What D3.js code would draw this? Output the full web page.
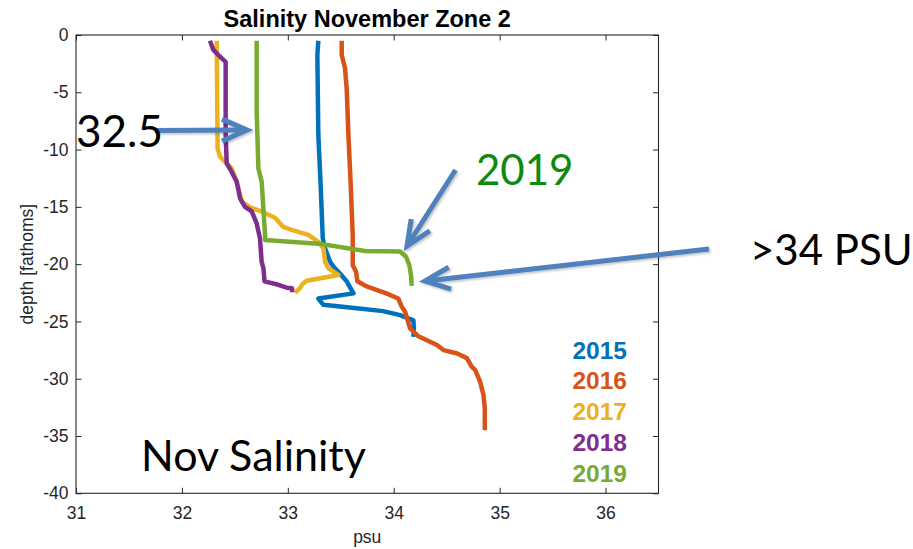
<!DOCTYPE html>
<html><head><meta charset="utf-8">
<script src="https://cdn.jsdelivr.net/npm/d3@7"></script>
<style>body{margin:0;background:#fff} svg{display:block}</style>
</head><body>
<svg id="c" width="913" height="549"></svg>
<script>
// ---- data ----
const years = ["2015","2016","2017","2018","2019"];
const colors = ["#0072BD","#D95319","#EDB120","#7E2F8E","#77AC30"];
const xTicks = [31,32,33,34,35,36];
const yTicks = [-40,-35,-30,-25,-20,-15,-10,-5,0];

const sal2015 = [33.288,33.279,33.288,33.31,33.33,33.35,33.40,33.43,33.49,33.556,33.62,33.288,33.336,33.65,33.9,34.06,34.186,34.19,34.186];
const dep2015 = [-0.5,-1.75,-8.7,-13.1,-17.75,-18.6,-19.8,-20.2,-20.8,-21.5,-22.55,-23.0,-23.55,-23.85,-24.1,-24.45,-24.9,-25.6,-26.35];

const sal2016 = [33.509,33.509,33.54,33.556,33.572,33.594,33.613,33.613,33.644,33.657,33.745,33.93,34.043,34.075,34.107,34.154,34.233,34.408,34.47,34.6,34.69,34.736,34.77,34.815,34.847,34.86,34.86];
const dep2016 = [-0.5,-1.75,-2.9,-4.7,-8.7,-13.1,-17.5,-20.1,-20.65,-21.5,-21.95,-22.55,-23,-23.7,-24.15,-25.6,-26.3,-27.05,-27.5,-27.8,-28.2,-28.95,-29.25,-30.25,-31.4,-32.6,-34.5];

const sal2017 = [32.328,32.337,32.359,32.406,32.47,32.517,32.565,32.643,32.753,32.879,32.957,33.036,33.194,33.288,33.336,33.352,33.383,33.478,33.178,33.137,33.115,33.068];
const dep2017 = [-0.5,-9.9,-10.6,-11.05,-11.65,-12.8,-14.55,-15.05,-15.4,-15.95,-16.75,-17.0,-17.45,-18.05,-18.6,-19.8,-20.35,-20.95,-21.45,-21.75,-22.1,-22.5];

const sal2018 = [32.265,32.297,32.36,32.413,32.413,32.423,32.47,32.517,32.549,32.596,32.659,32.706,32.737,32.753,32.77,32.78,32.91,32.989,33.04,33.04];
const dep2018 = [-0.5,-1.3,-1.9,-2.35,-8.7,-11.2,-11.95,-12.8,-14.25,-15.0,-15.4,-16.45,-17.75,-19.8,-20.35,-21.5,-21.8,-22.05,-22.1,-22.45];

const sal2019 = [32.706,32.706,32.722,32.753,32.785,32.785,33.32,33.729,34.06,34.116,34.148,34.163,34.17];
const dep2019 = [-0.5,-6.7,-11.65,-12.8,-17.45,-17.9,-18.25,-18.85,-18.9,-19.35,-20.1,-20.95,-21.9];

const salinity = [sal2015, sal2016, sal2017, sal2018, sal2019];
const depth = [dep2015, dep2016, dep2017, dep2018, dep2019];

// ---- layout ----
const L = 76, R = 658.5, T = 35, B = 493.3;
const svg = d3.select("#c");
const x = d3.scaleLinear().domain([31, 36.5]).range([L, R]);
const y = d3.scaleLinear().domain([-40, 0]).range([B, T]);
const axisColor = "#262626";
const tickFont = "Liberation Sans, Arial, sans-serif";

// frame
svg.append("rect").attr("x", L).attr("y", T).attr("width", R - L).attr("height", B - T)
  .attr("fill", "none").attr("stroke", axisColor).attr("stroke-width", 1.1);

// axes (inward ticks)
const fmt = d => String(d);
const gx = svg.append("g").attr("transform", `translate(0,${B})`)
  .call(d3.axisBottom(x).tickValues(xTicks).tickFormat(fmt).tickSizeInner(-5.5).tickSizeOuter(0).tickPadding(13));
const gxt = svg.append("g").attr("transform", `translate(0,${T})`)
  .call(d3.axisTop(x).tickValues(xTicks).tickFormat("").tickSizeInner(-5.5).tickSizeOuter(0));
const gy = svg.append("g").attr("transform", `translate(${L},0)`)
  .call(d3.axisLeft(y).tickValues(yTicks).tickFormat(fmt).tickSizeInner(-5.5).tickSizeOuter(0).tickPadding(8));
const gyr = svg.append("g").attr("transform", `translate(${R},0)`)
  .call(d3.axisRight(y).tickValues(yTicks).tickFormat("").tickSizeInner(-5.5).tickSizeOuter(0));
[gx, gxt, gy, gyr].forEach(g => {
  g.select(".domain").remove();
  g.selectAll(".tick line").attr("stroke", axisColor).attr("stroke-width", 1);
  g.selectAll(".tick text").attr("fill", axisColor).style("font-family", tickFont).style("font-size", "17.5px");
});
gy.selectAll(".tick text").attr("x", -7.5);

// axis labels
svg.append("text").attr("x", (L + R) / 2).attr("y", 543).attr("text-anchor", "middle")
  .style("font-family", tickFont).style("font-size", "17.5px").attr("fill", axisColor).text("psu");
svg.append("text").attr("transform", `translate(33,${(T + B) / 2}) rotate(-90)`).attr("text-anchor", "middle")
  .style("font-family", tickFont).style("font-size", "17.5px").attr("fill", axisColor).text("depth [fathoms]");

// title
svg.append("text").attr("x", (L + R) / 2).attr("y", 27).attr("text-anchor", "middle")
  .style("font-family", tickFont).style("font-size", "23.5px").style("font-weight", "bold").attr("fill", "#000")
  .text("Salinity November Zone 2");

// lines
const line = d3.line().x(d => x(d[0])).y(d => y(d[1])).curve(d3.curveLinear);
years.forEach((yr, i) => {
  const pts = salinity[i].map((s, k) => [s, depth[i][k]]);
  svg.append("path").datum(pts).attr("d", line).attr("fill", "none")
    .attr("stroke", colors[i]).attr("stroke-width", 4.5).attr("stroke-linejoin", "round").attr("stroke-linecap", "butt");
});

// legend
years.forEach((yr, i) => {
  svg.append("text").attr("x", 627).attr("y", 358.5 + i * 30.75).attr("text-anchor", "end")
    .style("font-family", tickFont).style("font-size", "24.5px").style("font-weight", "bold")
    .attr("fill", colors[i]).text(yr);
});

// annotations (slide overlay)
const defs = svg.append("defs");
const f = defs.append("filter").attr("id", "sh").attr("x", "-20%").attr("y", "-20%").attr("width", "140%").attr("height", "140%");
f.append("feDropShadow").attr("dx", 1.5).attr("dy", 1.5).attr("stdDeviation", 1.2).attr("flood-color", "#000").attr("flood-opacity", 0.25);

const arrowColor = "#4F81BD";
function arrow(x1, y1, x2, y2) {
  const ang = Math.atan2(y2 - y1, x2 - x1);
  const hl = 25, hw = 11;
  const bx = x2 - hl * Math.cos(ang), by = y2 - hl * Math.sin(ang);
  const px = -Math.sin(ang), py = Math.cos(ang);
  const g = svg.append("g").attr("filter", "url(#sh)");
  g.append("line").attr("x1", x1).attr("y1", y1).attr("x2", x2 - 3 * Math.cos(ang)).attr("y2", y2 - 3 * Math.sin(ang))
    .attr("stroke", arrowColor).attr("stroke-width", 5);
  g.append("polyline").attr("points", `${bx + px * hw},${by + py * hw} ${x2},${y2} ${bx - px * hw},${by - py * hw}`)
    .attr("fill", "none").attr("stroke", arrowColor).attr("stroke-width", 5).attr("stroke-linejoin", "miter");
}
arrow(155, 130.5, 247, 130);
arrow(455.5, 170, 407, 246);
arrow(709, 249, 425, 281);

const annFont = "Lato, 'Open Sans', sans-serif";
svg.append("text").attr("x", 76).attr("y", 147).style("font-family", annFont).style("font-size", "44px").attr("fill", "#000").text("32.5");
svg.append("text").attr("x", 476).attr("y", 185).style("font-family", annFont).style("font-size", "42px").attr("fill", "#0B8A0B").text("2019");
svg.append("text").attr("x", 750).attr("y", 265).style("font-family", annFont).style("font-size", "42px").attr("fill", "#000").text(">34 PSU");
svg.append("text").attr("x", 141).attr("y", 471).style("font-family", annFont).style("font-size", "43px").attr("fill", "#000").text("Nov Salinity");
</script>
</body></html>
